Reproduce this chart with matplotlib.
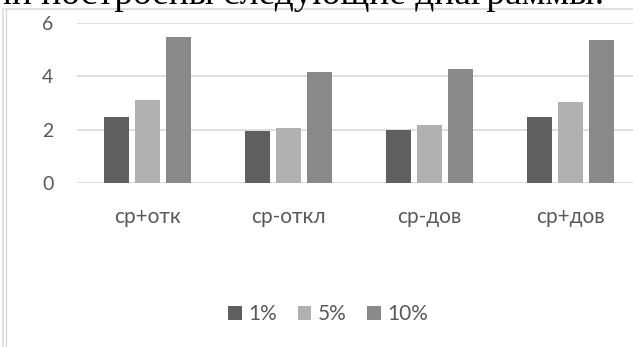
import matplotlib.pyplot as plt
from matplotlib.lines import Line2D
import numpy as np

# значения по доверительным уровням
categories = ['ср+отк', 'ср-откл', 'ср-дов', 'ср+дов']
series_names = ['1%', '5%', '10%']
vals_1 = [2.49, 1.96, 2.01, 2.47]
vals_5 = [3.13, 2.08, 2.17, 3.05]
vals_10 = [5.46, 4.16, 4.26, 5.36]
colors = ['#5f5f5f', '#b1b1b1', '#898989']

W, H = 633, 347
plt.rcParams['font.family'] = ['Lato', 'DejaVu Sans']

fig = plt.figure(figsize=(W / 100, H / 100), dpi=100)

# строка текста над диаграммой (видна только нижняя часть)
fig.text(605 / W, 1 - 4 / H, 'были построены следующие диаграммы:',
         family=['Liberation Serif'], fontsize=27, color='black',
         ha='right', va='baseline')

# рамка области диаграммы
fig.add_artist(Line2D([6 / W, 1], [1 - 9 / H, 1 - 9 / H], color='#d9d9d9', lw=1.2))
fig.add_artist(Line2D([3 / W, 3 / W], [0, 1 - 9 / H], color='#e0e0e0', lw=1.6))
fig.add_artist(Line2D([5.5 / W, 5.5 / W], [0, 1 - 9 / H], color='#d0d0d0', lw=0.8))

ax = fig.add_axes([77 / W, 1 - 183.3 / H, 556 / W, 160.3 / H])

x = np.arange(len(categories))
step = 0.22
width = 0.172
for i, (name, vals) in enumerate(zip(series_names, [vals_1, vals_5, vals_10])):
    ax.bar(x + (i - 1) * step, vals, width, color=colors[i], label=name, zorder=3)

ax.set_xlim(-0.5, -0.5 + 556 / 141)
ax.set_ylim(0, 6)
ax.set_yticks([0, 2, 4, 6])
ax.yaxis.grid(True, color='#d9d9d9', lw=1.2, zorder=0)
ax.set_axisbelow(True)
for s in ax.spines.values():
    s.set_visible(False)
ax.set_xticks(x)
ax.set_xticklabels(categories)
ax.tick_params(axis='y', length=0, pad=17, labelsize=14, labelcolor='#595959')
ax.tick_params(axis='x', length=0, pad=17, labelsize=15, labelcolor='#595959')

fig.legend(loc='center', bbox_to_anchor=(328 / W, 1 - 314 / H), ncol=3,
           frameon=False, fontsize=15, labelcolor='#595959',
           handlelength=0.65, handleheight=0.65, handletextpad=0.3,
           columnspacing=1.0)

plt.savefig('out.png', dpi=100)
